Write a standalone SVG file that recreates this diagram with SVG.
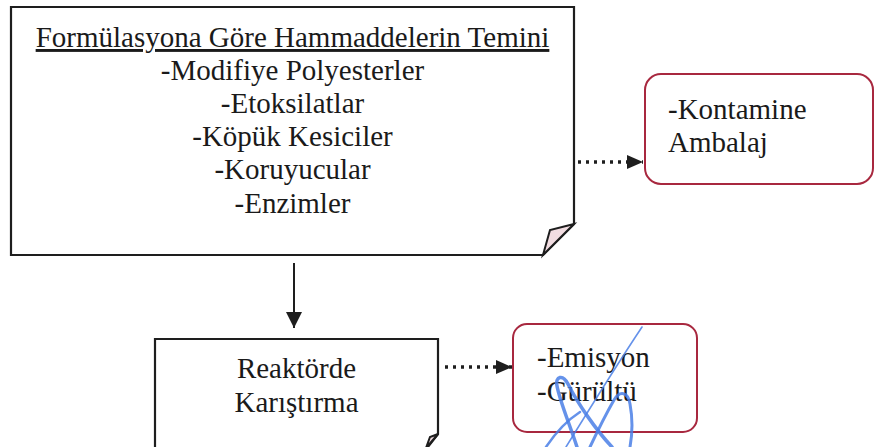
<svg xmlns="http://www.w3.org/2000/svg" width="876" height="447" viewBox="0 0 876 447">
  <style>
    .doc { fill: #ffffff; stroke: #1e1e1e; stroke-width: 2.2; stroke-linejoin: miter; }
    .flap { fill: #f2dde2; stroke: #1e1e1e; stroke-width: 2; stroke-linejoin: miter; }
    .out { fill: #ffffff; stroke: #a8283f; stroke-width: 2; }
    .txt { font-size: 29px; fill: #1a1a1a; }
    .mid { text-anchor: middle; }
    .solid { stroke: #1e1e1e; stroke-width: 2; fill: none; }
    .dots { stroke: #1e1e1e; stroke-width: 3.4; stroke-dasharray: 3 5; fill: none; }
    .ink { fill: none; stroke: #4a7fe6; stroke-linecap: round; stroke-linejoin: round; opacity: 0.85; }
  </style>
  <defs>
    <marker id="headBig" viewBox="0 0 16 16" refX="16" refY="8" markerUnits="userSpaceOnUse" markerWidth="16" markerHeight="16" orient="auto">
      <path d="M0,0 L16,8 L0,16 Z" fill="#1e1e1e"/>
    </marker>
    <marker id="headSmall" viewBox="0 0 16 14" refX="16" refY="7" markerUnits="userSpaceOnUse" markerWidth="16" markerHeight="14" orient="auto">
      <path d="M0,0 L16,7 L0,14 Z" fill="#1e1e1e"/>
    </marker>
  </defs>

  <rect width="876" height="447" fill="#ffffff"/>

  <g font-family="Liberation Serif, Times New Roman, serif">
    <!-- raw material supply -->
    <g id="hammadde">
      <path class="doc" d="M11,7 H574 V224 L543,255 H11 Z"/>
      <path class="flap" d="M574,224 L550,230 L543,255 Z"/>
      <text class="txt mid" x="292.5" y="47" text-decoration="underline">Formülasyona Göre Hammaddelerin Temini</text>
      <text class="txt mid" x="292.5" y="80">-Modifiye Polyesterler</text>
      <text class="txt mid" x="292.5" y="113">-Etoksilatlar</text>
      <text class="txt mid" x="292.5" y="146">-Köpük Kesiciler</text>
      <text class="txt mid" x="292.5" y="179">-Koruyucular</text>
      <text class="txt mid" x="292.5" y="213">-Enzimler</text>
    </g>

    <!-- contaminated packaging -->
    <g id="kontamine">
      <rect class="out" x="645" y="74" width="228" height="110" rx="16" ry="16"/>
      <text class="txt" x="668" y="119">-Kontamine</text>
      <text class="txt" x="668" y="152">Ambalaj</text>
    </g>

    <!-- mixing in reactor -->
    <g id="reaktor">
      <path class="doc" d="M155,339 H438 V434 L424,452 H155 Z"/>
      <path class="flap" d="M438,434 L430,437 L426,448 Z"/>
      <text class="txt mid" x="296.5" y="378">Reaktörde</text>
      <text class="txt mid" x="296.5" y="412">Karıştırma</text>
    </g>

    <!-- emission and noise -->
    <g id="emisyon">
      <rect class="out" x="513" y="324" width="184" height="108" rx="14" ry="14"/>
      <text class="txt" x="537" y="367">-Emisyon</text>
      <text class="txt" x="537" y="401">-Gürültü</text>
    </g>
  </g>

  <!-- connectors -->
  <g id="connectors">
    <line class="solid" x1="294" y1="263" x2="294" y2="328" marker-end="url(#headBig)"/>
    <line class="dots" x1="578" y1="162" x2="643" y2="162" marker-end="url(#headSmall)"/>
    <line class="dots" x1="445" y1="367" x2="512" y2="367" marker-end="url(#headSmall)"/>
  </g>

  <!-- pen signature -->
  <g id="imza">
    <path class="ink" stroke-width="1.6" d="M642,327 C620,360 595,400 566,447"/>
    <path class="ink" stroke-width="3.5" d="M577,447 C570,425 560,402 557,386 C555,376 563,374 568,384 C578,404 596,430 612,447"/>
    <path class="ink" stroke-width="3" d="M590,447 C598,430 606,414 614,400 C620,390 628,392 630,404 C633,420 632,436 630,447"/>
    <path class="ink" stroke-width="2.5" d="M546,447 C556,432 566,421 580,412"/>
  </g>
</svg>
